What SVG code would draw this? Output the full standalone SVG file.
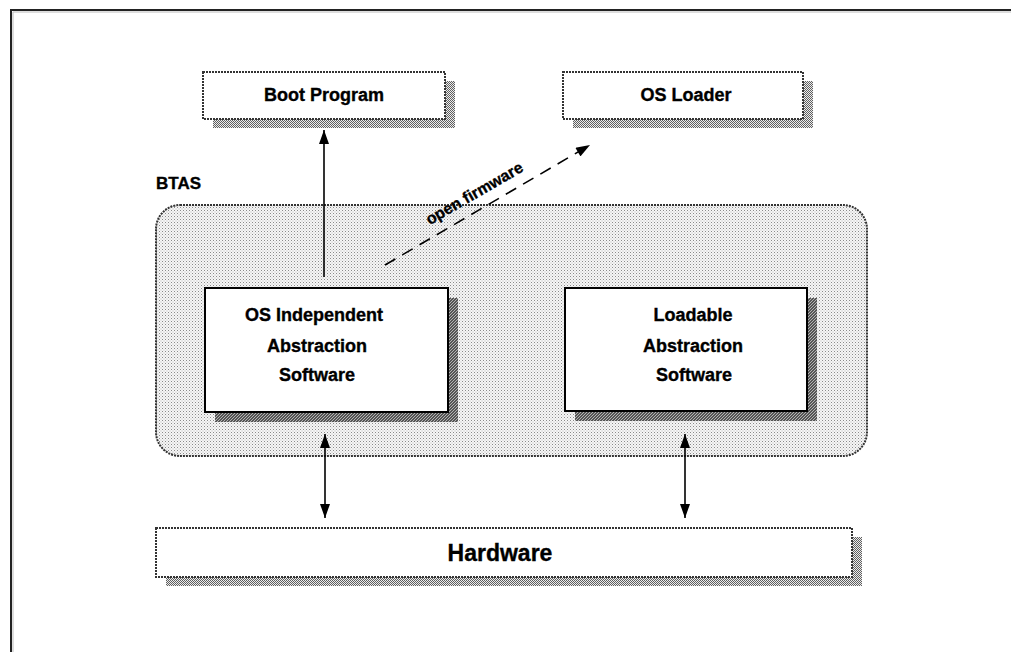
<svg xmlns="http://www.w3.org/2000/svg" width="1011" height="652" viewBox="0 0 1011 652">
  <style>
    .lbl { font-family: "Liberation Sans", Arial, sans-serif; font-weight: bold; fill: #000; stroke: #000; stroke-width: 0.35; text-anchor: middle; }
    .box { fill: #fff; stroke: #333; stroke-width: 2; stroke-dasharray: 2 1; }
    .inner { fill: #fff; stroke: #000; stroke-width: 2; }
    .shadow { fill: url(#checker); }
    .hatch { fill: url(#hatch); }
    .conn { stroke: #000; stroke-width: 1.6; fill: none; }
  </style>
  <defs>
    <pattern id="dots" width="3" height="3" patternUnits="userSpaceOnUse">
      <rect width="3" height="3" fill="#f6f6f6"/>
      <rect x="0" y="0" width="1" height="1" fill="#8a8a8a"/>
      <rect x="1.5" y="1.5" width="1" height="1" fill="#b8b8b8"/>
    </pattern>
    <pattern id="checker" width="2" height="2" patternUnits="userSpaceOnUse">
      <rect width="2" height="2" fill="#ececec"/>
      <rect width="1" height="1" fill="#606060"/>
      <rect x="1" y="1" width="1" height="1" fill="#606060"/>
    </pattern>
    <pattern id="hatch" width="3" height="3" patternUnits="userSpaceOnUse">
      <rect width="3" height="3" fill="#555"/>
      <path d="M0,3 L3,0" stroke="#ccc" stroke-width="0.8"/>
    </pattern>
    <marker id="ahL" viewBox="0 0 14 10" refX="14" refY="5" markerWidth="15" markerHeight="10" markerUnits="userSpaceOnUse" orient="auto-start-reverse">
      <path d="M0,0 L14,5 L0,10 z" fill="#000"/>
    </marker>
  </defs>

  <rect width="1011" height="652" fill="#fff"/>
  <path d="M11,652 V10 H1011" fill="none" stroke="#222" stroke-width="2"/>
  <path d="M13,652 V12 H1011" fill="none" stroke="#bbb" stroke-width="1"/>

  <g id="btas">
    <text class="lbl" x="156" y="189" style="text-anchor:start" font-size="17">BTAS</text>
    <rect x="156" y="205" width="711" height="251" rx="24" ry="24" fill="url(#dots)" stroke="#333" stroke-width="2" stroke-dasharray="2 1"/>
  </g>

  <g id="boot-program">
    <rect class="shadow" x="213" y="81" width="242" height="47"/>
    <rect class="box" x="203" y="72" width="242" height="47"/>
    <text class="lbl" x="324" y="101" font-size="18">Boot Program</text>
  </g>

  <g id="os-loader">
    <rect class="shadow" x="573" y="81" width="240" height="47"/>
    <rect class="box" x="563" y="72" width="240" height="47"/>
    <text class="lbl" x="686" y="101" font-size="18">OS Loader</text>
  </g>

  <g id="os-independent">
    <rect class="hatch" x="215" y="298" width="243" height="124"/>
    <rect class="inner" x="205" y="288" width="243" height="124"/>
    <text class="lbl" x="314" y="321" font-size="18">OS Independent</text>
    <text class="lbl" x="317" y="352" font-size="18">Abstraction</text>
    <text class="lbl" x="317" y="381" font-size="18">Software</text>
  </g>

  <g id="loadable">
    <rect class="hatch" x="575" y="298" width="242" height="123"/>
    <rect class="inner" x="565" y="288" width="242" height="123"/>
    <text class="lbl" x="693" y="321" font-size="18">Loadable</text>
    <text class="lbl" x="693" y="352" font-size="18">Abstraction</text>
    <text class="lbl" x="694" y="381" font-size="18">Software</text>
  </g>

  <g id="hardware">
    <rect class="shadow" x="166" y="537" width="696" height="49"/>
    <rect class="box" x="156" y="528" width="696" height="49"/>
    <text class="lbl" x="500" y="561" font-size="23">Hardware</text>
  </g>

  <g id="connectors">
    <line class="conn" x1="324" y1="277" x2="324" y2="130" marker-end="url(#ahL)"/>
    <line class="conn" x1="385" y1="265" x2="590" y2="145" stroke-dasharray="12 8" marker-end="url(#ahL)"/>
    <line class="conn" x1="325" y1="434" x2="325" y2="518" marker-start="url(#ahL)" marker-end="url(#ahL)"/>
    <line class="conn" x1="685" y1="434" x2="685" y2="518" marker-start="url(#ahL)" marker-end="url(#ahL)"/>
    <text class="lbl" x="477" y="198" font-size="16" transform="rotate(-30 477 198)">open firmware</text>
  </g>
</svg>
